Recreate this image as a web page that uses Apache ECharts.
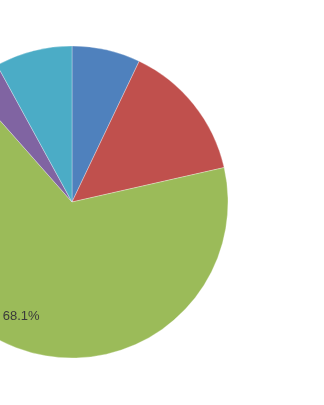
<!DOCTYPE html>
<html><head><meta charset="utf-8">
<script src="https://cdn.jsdelivr.net/npm/echarts@6/dist/echarts.min.js"></script>
<style>html,body{margin:0;padding:0;background:#fff}#c{width:324px;height:405px}</style>
</head><body><div id="c"></div>
<script>
var categories = ['A', 'B', 'C', 'D', 'E'];
var values = [7.2, 14.6, 68.1, 3.6, 8.1];
var colors = ['#4F81BD', '#C0504D', '#9BBB59', '#8064A2', '#4BACC6'];
var showLabel = [false, false, true, false, false];

var chart = echarts.init(document.getElementById('c'), null, {renderer: 'canvas'});
chart.setOption({
  animation: false,
  series: [{
    type: 'pie',
    center: [72, 202],
    radius: [0, 156],
    startAngle: 90,
    clockwise: true,
    data: categories.map(function (n, i) {
      return {
        name: n, value: values[i],
        itemStyle: {color: colors[i]},
        label: {show: showLabel[i]}
      };
    }),
    itemStyle: {borderColor: 'rgba(255,255,255,0.5)', borderWidth: 0.6},
    label: {
      position: 'inside',
      formatter: function (p) { return p.value.toFixed(1) + '%'; },
      color: '#3a3a3a',
      fontFamily: 'Liberation Sans, Arial, sans-serif',
      fontSize: 13
    },
    labelLine: {show: false},
    labelLayout: function (p) { return {dx: -26, dy: 37}; }
  }]
});
</script></body></html>
